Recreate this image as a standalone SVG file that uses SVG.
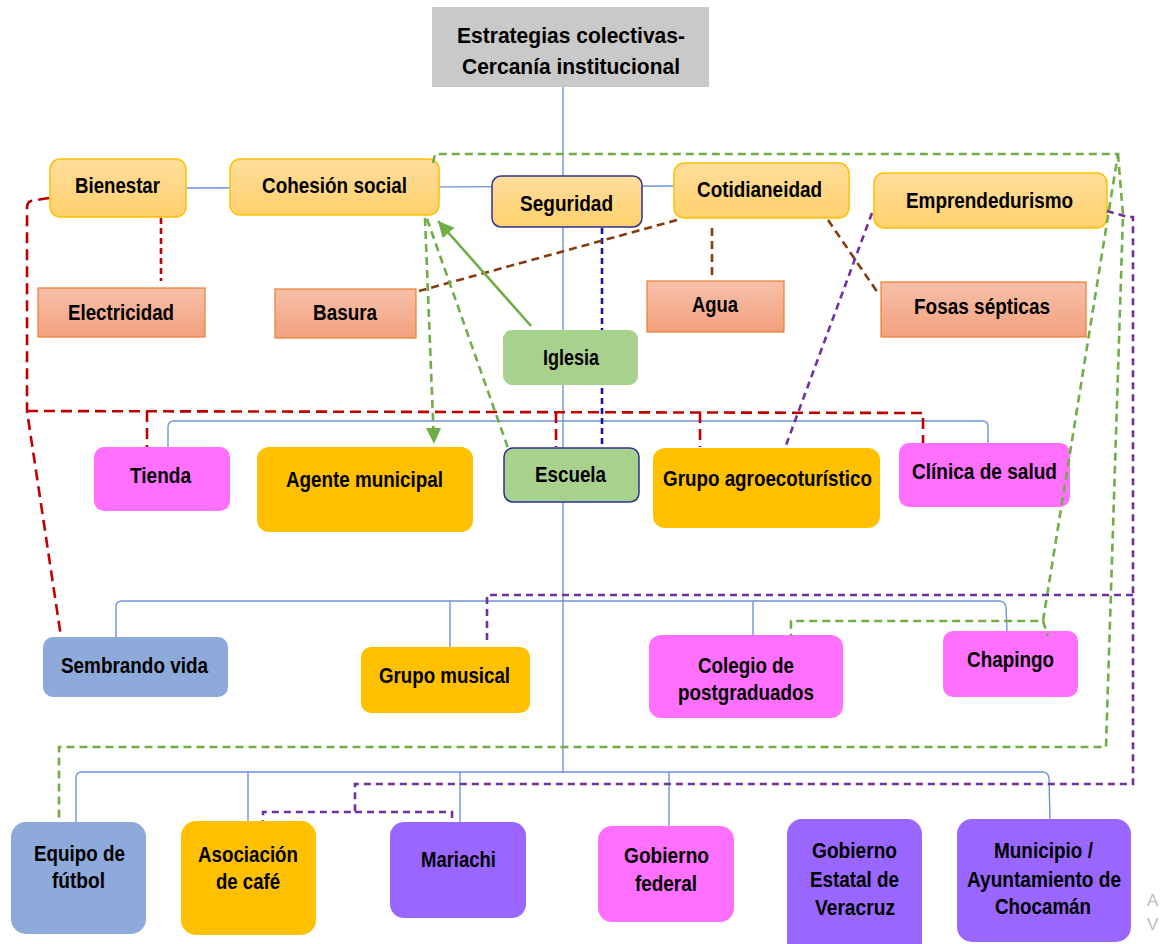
<svg xmlns="http://www.w3.org/2000/svg" width="1161" height="944" viewBox="0 0 1161 944">
<style>
.t{font-family:'Liberation Sans',Arial,sans-serif;font-weight:bold;font-size:22px;fill:#000;text-anchor:middle}
.blue{stroke:#6f93d8;stroke-width:1.4;fill:none}
.red{stroke:#c00000;stroke-width:2.6;stroke-dasharray:11 6;fill:none}
.red2{stroke:#c00000;stroke-width:2.6;stroke-dasharray:6 4;fill:none}
.brown{stroke:#843c0c;stroke-width:2.6;stroke-dasharray:8 5;fill:none}
.navy{stroke:#1414a0;stroke-width:2.6;stroke-dasharray:6 4;fill:none}
.gd{stroke:#70ad47;stroke-width:2.6;stroke-dasharray:8 5;fill:none}
.gs{stroke:#70ad47;stroke-width:2.6;fill:none}
.pu{stroke:#7030a0;stroke-width:2.6;stroke-dasharray:7 5;fill:none}
.top{fill:url(#gTop);stroke:#ffc000;stroke-width:1.5}
.sal{fill:url(#gSal);stroke:#ed7d31;stroke-width:1.2}
.grn{fill:#a9d18e}
.pink{fill:#ff70ff}
.gold{fill:#ffc000}
.bg{fill:#8eaadb}
.vio{fill:#9966ff}
</style>
<defs>
<linearGradient id="gTop" x1="0" y1="0" x2="0" y2="1"><stop offset="0" stop-color="#ffde9c"/><stop offset="1" stop-color="#ffd06c"/></linearGradient>
<linearGradient id="gSal" x1="0" y1="0" x2="0" y2="1"><stop offset="0" stop-color="#f6c0a9"/><stop offset="1" stop-color="#f3a17e"/></linearGradient>
<marker id="ag" viewBox="0 0 10 10" refX="10" refY="5" markerWidth="16" markerHeight="16" markerUnits="userSpaceOnUse" orient="auto"><path d="M0,0 L10,5 L0,10 z" fill="#70ad47"/></marker>
</defs>
<rect width="1161" height="944" fill="#ffffff"/>

<g id="tree-connectors">
<path class="blue" d="M563,87 V773"/>
<path class="blue" d="M187,188 L674,186"/>
<path class="blue" d="M168,447 V427 Q168,421 174,421 H983 Q988,421 988,427 V443"/>
<path class="blue" d="M116,637 V607 Q116,601 122,601 H999 Q1005,601 1006,607 L1007,631"/>
<path class="blue" d="M450,601 V647 M753,601 V635"/>
<path class="blue" d="M76,822 V778 Q76,772 82,772 H1043 Q1048,772 1049,778 L1050,819"/>
<path class="blue" d="M248,772 V821 M460,772 V822 M669,772 V826"/>
<path class="navy" d="M602,228 V447"/>
</g>

<g id="n-title"><rect x="432" y="7" width="277" height="80" fill="#c9c9c9"/>
<text class="t" x="571" y="43" textLength="228" lengthAdjust="spacingAndGlyphs">Estrategias colectivas-</text>
<text class="t" x="571" y="74" textLength="218" lengthAdjust="spacingAndGlyphs">Cercanía institucional</text></g>

<g id="n-bienestar"><rect class="top" x="50" y="159" width="136" height="58" rx="10"/><text class="t" x="117.5" y="193" textLength="85" lengthAdjust="spacingAndGlyphs">Bienestar</text></g>
<g id="n-cohesion"><rect class="top" x="230" y="159" width="209" height="56" rx="10"/><text class="t" x="334.5" y="193" textLength="145" lengthAdjust="spacingAndGlyphs">Cohesión social</text></g>
<g id="n-seguridad"><rect x="492" y="176" width="150" height="51" rx="9" fill="url(#gTop)" stroke="#2e3192" stroke-width="1.5"/><text class="t" x="566.5" y="211" textLength="93" lengthAdjust="spacingAndGlyphs">Seguridad</text></g>
<g id="n-cotidianeidad"><rect class="top" x="674" y="163" width="175" height="55" rx="10"/><text class="t" x="759.5" y="197" textLength="125" lengthAdjust="spacingAndGlyphs">Cotidianeidad</text></g>
<g id="n-emprendedurismo"><rect class="top" x="874" y="173" width="233" height="55" rx="10"/><text class="t" x="989.5" y="208" textLength="167" lengthAdjust="spacingAndGlyphs">Emprendedurismo</text></g>

<g id="n-electricidad"><rect class="sal" x="38" y="288" width="167" height="49"/><text class="t" x="121" y="320" textLength="106" lengthAdjust="spacingAndGlyphs">Electricidad</text></g>
<g id="n-basura"><rect class="sal" x="275" y="289" width="141" height="49"/><text class="t" x="345" y="320" textLength="64" lengthAdjust="spacingAndGlyphs">Basura</text></g>
<g id="n-agua"><rect class="sal" x="647" y="281" width="137" height="51"/><text class="t" x="715" y="312" textLength="46" lengthAdjust="spacingAndGlyphs">Agua</text></g>
<g id="n-fosas"><rect class="sal" x="881" y="282" width="205" height="55"/><text class="t" x="982" y="314" textLength="136" lengthAdjust="spacingAndGlyphs">Fosas sépticas</text></g>

<g id="n-iglesia"><rect class="grn" x="503" y="330" width="135" height="55" rx="9"/><text class="t" x="571" y="365" textLength="56" lengthAdjust="spacingAndGlyphs">Iglesia</text></g>

<g id="n-tienda"><rect class="pink" x="94" y="447" width="136" height="64" rx="10"/><text class="t" x="160.5" y="483" textLength="61" lengthAdjust="spacingAndGlyphs">Tienda</text></g>
<g id="n-agente"><rect class="gold" x="257" y="447" width="216" height="85" rx="12"/><text class="t" x="364.5" y="487" textLength="157" lengthAdjust="spacingAndGlyphs">Agente municipal</text></g>
<g id="n-escuela"><rect x="504" y="448" width="135" height="54" rx="9" fill="#a9d18e" stroke="#2e3192" stroke-width="1.5"/><text class="t" x="570.5" y="482" textLength="71" lengthAdjust="spacingAndGlyphs">Escuela</text></g>
<g id="n-agro"><rect class="gold" x="653" y="448" width="227" height="80" rx="12"/><text class="t" x="767.5" y="486" textLength="209" lengthAdjust="spacingAndGlyphs">Grupo agroecoturístico</text></g>
<g id="n-clinica"><rect class="pink" x="899" y="443" width="171" height="64" rx="10"/><text class="t" x="984.5" y="479" textLength="145" lengthAdjust="spacingAndGlyphs">Clínica de salud</text></g>

<g id="n-sembrando"><rect class="bg" x="43" y="637" width="185" height="60" rx="10"/><text class="t" x="134.5" y="673" textLength="147" lengthAdjust="spacingAndGlyphs">Sembrando vida</text></g>
<g id="n-musical"><rect class="gold" x="361" y="647" width="169" height="66" rx="10"/><text class="t" x="444.5" y="683" textLength="131" lengthAdjust="spacingAndGlyphs">Grupo musical</text></g>
<g id="n-colegio"><rect class="pink" x="649" y="635" width="194" height="83" rx="12"/><text class="t" x="746" y="673" textLength="96" lengthAdjust="spacingAndGlyphs">Colegio de</text><text class="t" x="746" y="700" textLength="136" lengthAdjust="spacingAndGlyphs">postgraduados</text></g>
<g id="n-chapingo"><rect class="pink" x="943" y="631" width="135" height="66" rx="10"/><text class="t" x="1010.5" y="667" textLength="87" lengthAdjust="spacingAndGlyphs">Chapingo</text></g>

<g id="n-futbol"><rect class="bg" x="11" y="822" width="135" height="112" rx="15"/><text class="t" x="79.5" y="861" textLength="91" lengthAdjust="spacingAndGlyphs">Equipo de</text><text class="t" x="78.5" y="888" textLength="53" lengthAdjust="spacingAndGlyphs">fútbol</text></g>
<g id="n-cafe"><rect class="gold" x="181" y="821" width="135" height="114" rx="15"/><text class="t" x="248" y="862" textLength="100" lengthAdjust="spacingAndGlyphs">Asociación</text><text class="t" x="248" y="889" textLength="64" lengthAdjust="spacingAndGlyphs">de café</text></g>
<g id="n-mariachi"><rect class="vio" x="390" y="822" width="136" height="96" rx="14"/><text class="t" x="458.5" y="867" textLength="75" lengthAdjust="spacingAndGlyphs">Mariachi</text></g>
<g id="n-federal"><rect class="pink" x="598" y="826" width="136" height="96" rx="14"/><text class="t" x="666.5" y="863" textLength="85" lengthAdjust="spacingAndGlyphs">Gobierno</text><text class="t" x="666" y="891" textLength="62" lengthAdjust="spacingAndGlyphs">federal</text></g>
<g id="n-estatal"><rect class="vio" x="787" y="819" width="135" height="140" rx="15"/><text class="t" x="854.5" y="858" textLength="85" lengthAdjust="spacingAndGlyphs">Gobierno</text><text class="t" x="854.5" y="887" textLength="89" lengthAdjust="spacingAndGlyphs">Estatal de</text><text class="t" x="855" y="915" textLength="80" lengthAdjust="spacingAndGlyphs">Veracruz</text></g>
<g id="n-municipio"><rect class="vio" x="957" y="819" width="174" height="123" rx="15"/><text class="t" x="1043.5" y="858" textLength="99" lengthAdjust="spacingAndGlyphs">Municipio /</text><text class="t" x="1044" y="887" textLength="154" lengthAdjust="spacingAndGlyphs">Ayuntamiento de</text><text class="t" x="1043" y="914" textLength="96" lengthAdjust="spacingAndGlyphs">Chocamán</text></g>

<g id="link-connectors">
<path class="red" d="M49,198 L31,201 Q27,202 27,208 V411 L61,637"/>
<path class="red" d="M27,411 L923,413 V443"/>
<path class="red" d="M147,411 V447 M556,412 V447 M700,412 V447"/>
<path class="red2" d="M161,218 V281"/>
<path class="brown" d="M712,228 V276"/>
<path class="brown" d="M677,220 L419,291"/>
<path class="brown" d="M828,220 L878,293"/>
<path class="gs" d="M531,326 L438,221" marker-end="url(#ag)"/>
<path class="gd" d="M425,218 L433.5,432"/>
<path d="M426,428 L441,428 L434,444 z" fill="#70ad47"/>
<path class="gd" d="M427,219 L508,448"/>
<path class="gd" d="M433,163 L435,154 H1118 L1043,621 H791 V636"/>
<path class="gd" d="M1043,621 L1048,636"/>
<path class="gd" d="M1118,154 L1123,215 L1106,747 H59 V822"/>
<path class="pu" d="M1107,211 L1128,217 H1133 V784 H355 V812 H263 V821"/>
<path class="pu" d="M355,812 H452 V822"/>
<path class="pu" d="M1133,595 H487 V643"/>
<path class="pu" d="M872,213 L785,448"/>
</g>
<text x="1147" y="906" style="font-family:'Liberation Sans',Arial,sans-serif;font-size:17px;fill:#bdbdbd">A</text>
<text x="1147" y="930" style="font-family:'Liberation Sans',Arial,sans-serif;font-size:17px;fill:#bdbdbd">V</text>
</svg>
